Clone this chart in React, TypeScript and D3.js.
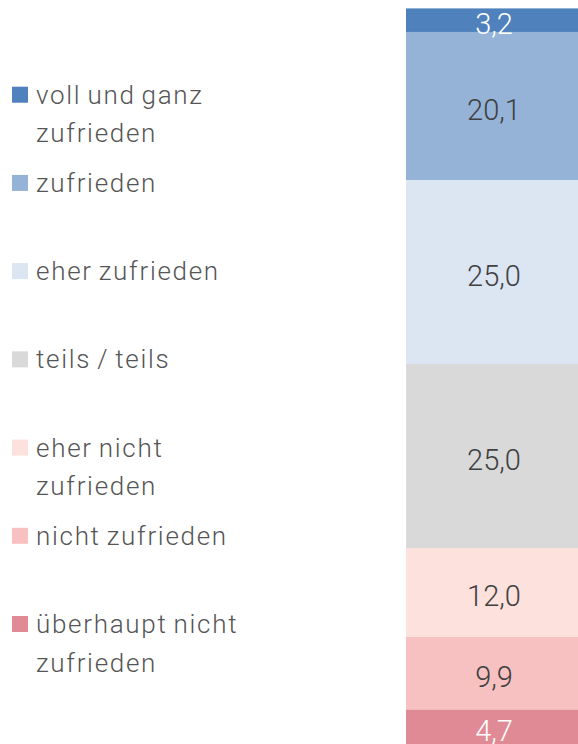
import React from "react";
import * as d3 from "d3";

const categories = [
  "voll und ganz zufrieden",
  "zufrieden",
  "eher zufrieden",
  "teils / teils",
  "eher nicht zufrieden",
  "nicht zufrieden",
  "überhaupt nicht zufrieden",
];
const legendLines = [
  ["voll und ganz", "zufrieden"],
  ["zufrieden"],
  ["eher zufrieden"],
  ["teils / teils"],
  ["eher nicht", "zufrieden"],
  ["nicht zufrieden"],
  ["überhaupt nicht", "zufrieden"],
];
const values = [3.2, 20.1, 25.0, 25.0, 12.0, 9.9, 4.7];
const colors = ["#4f81bd", "#95b3d7", "#dce6f2", "#d9d9d9", "#fde1dc", "#f8c1c1", "#e08a95"];
const labelColors = ["#ffffff", "#404040", "#404040", "#404040", "#404040", "#404040", "#ffffff"];

const W = 578;
const H = 744;

export default function App() {
  const total = d3.sum(values);
  const y = d3.scaleLinear().domain([0, total]).range([H, 8.4]);
  const x0 = 406;
  const x1 = 582;
  const row: Record<string, number> = {};
  categories.forEach((c, i) => (row[c] = values[i]));
  const order = [...categories].reverse();
  const series = d3.stack<Record<string, number>>().keys(order)([row]);
  const fmt = (v: number) => d3.format(".1f")(v).replace(".", ",");
  const legendY = d3.scaleLinear().domain([0, categories.length - 1]).range([94.7, 624]);

  return (
    <div style={{ position: "absolute", left: 0, top: 0 }}>
      <svg width={W} height={H} style={{ display: "block" }}>
        <rect x={0} y={0} width={W} height={H} fill="#ffffff" />
        {series.map((s) => {
          const i = categories.indexOf(s.key);
          const d = s[0];
          const top = y(d[1]);
          const bot = y(d[0]);
          return (
            <g key={s.key}>
              <rect x={x0} y={top} width={x1 - x0} height={bot - top} fill={colors[i]} />
              <text
                x={(x0 + x1) / 2}
                y={(top + bot) / 2 + 4}
                textAnchor="middle"
                dominantBaseline="central"
                fontFamily="Roboto, sans-serif"
                fontWeight={300}
                fontSize={29}
                fill={labelColors[i]}
              >
                {fmt(values[i])}
              </text>
            </g>
          );
        })}
        {categories.map((c, i) => {
          const cy = legendY(i);
          return (
            <g key={c}>
              <rect x={12} y={cy - 8} width={16} height={16} fill={colors[i]} />
              {legendLines[i].map((ln, j) => (
                <text
                  key={j}
                  x={36}
                  y={cy + j * 38.5}
                  dominantBaseline="central"
                  fontFamily="Roboto, sans-serif"
                  fontWeight={300}
                  fontSize={26}
                  letterSpacing={1.7}
                  wordSpacing={-2}
                  fill="#555555"
                >
                  {ln}
                </text>
              ))}
            </g>
          );
        })}
      </svg>
    </div>
  );
}
